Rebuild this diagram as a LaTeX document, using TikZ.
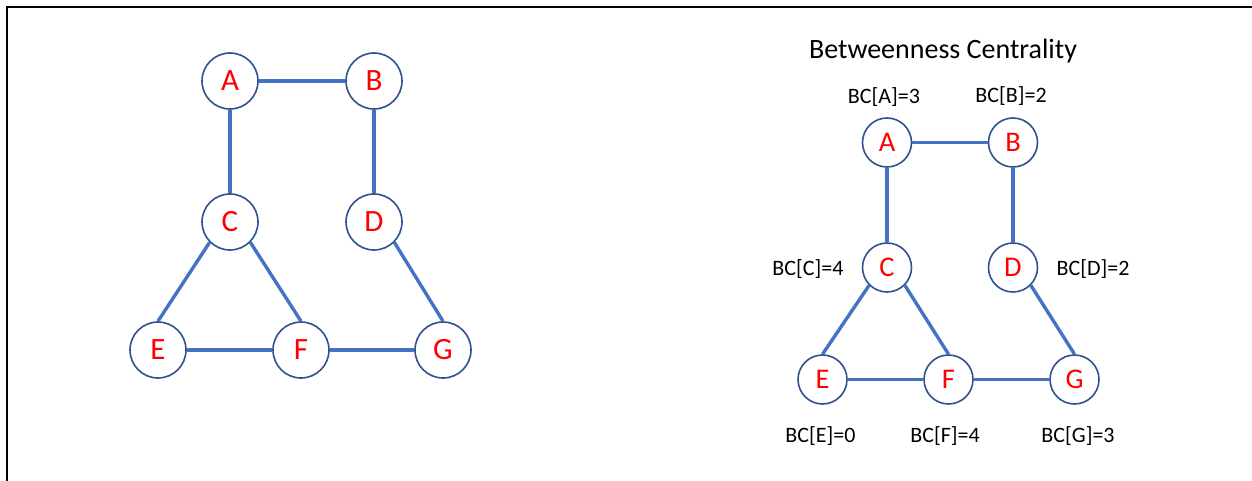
\documentclass[tikz,border=0pt]{standalone}
\usepackage{fontspec}
\setmainfont{Carlito}
\definecolor{ringblue}{RGB}{47,82,143}
\definecolor{edgeblue}{RGB}{68,114,196}
\definecolor{lettered}{RGB}{255,0,0}
\begin{document}
\begin{tikzpicture}[x=1pt,y=-1pt,
  vtx/.style={circle,draw=ringblue,line width=1.6pt,fill=white,inner sep=0pt,
    text=lettered},
  bigvtx/.style={vtx,minimum size=56pt,font=\fontsize{31}{31}\selectfont},
  smallvtx/.style={vtx,minimum size=49pt,font=\fontsize{28.5}{28.5}\selectfont},
  edge/.style={draw=edgeblue,line width=3.4pt},
  score/.style={anchor=base,inner sep=0pt,font=\fontsize{22}{22}\selectfont},
  heading/.style={anchor=base,inner sep=0pt,font=\fontsize{28}{28}\selectfont}]
\useasboundingbox (0,0) rectangle (1252,481);
% frame: top and left rules
\draw[line width=2.6pt] (1252,7) -- (7,7) -- (7,481);

% left graph
\node[bigvtx] (lA) at (230,81) {A};
\node[bigvtx] (lB) at (374,81) {B};
\node[bigvtx] (lC) at (230,222) {C};
\node[bigvtx] (lD) at (374,222) {D};
\node[bigvtx] (lE) at (158,350) {E};
\node[bigvtx] (lF) at (301,350) {F};
\node[bigvtx] (lG) at (443,350) {G};
\draw[edge] (lA.east) -- (lB.west);
\draw[edge] (lA.south) -- (lC.north);
\draw[edge] (lB.south) -- (lD.north);
\draw[edge] (lC.south west) -- (lE.north);
\draw[edge] (lC.south east) -- (lF.north);
\draw[edge] (lD.south east) -- (lG.north);
\draw[edge] (lE.east) -- (lF.west);
\draw[edge] (lF.east) -- (lG.west);

% right graph with scores
\node[heading] (title) at (943,59) {Betweenness Centrality};
\node[smallvtx] (rA) at (887,142.5) {A};
\node[smallvtx] (rB) at (1013,142.5) {B};
\node[smallvtx] (rC) at (887,267.5) {C};
\node[smallvtx] (rD) at (1013,267.5) {D};
\node[smallvtx] (rE) at (822.5,379.5) {E};
\node[smallvtx] (rF) at (948.5,379.5) {F};
\node[smallvtx] (rG) at (1074.5,379.5) {G};
\draw[edge] (rA.east) -- (rB.west);
\draw[edge] (rA.south) -- (rC.north);
\draw[edge] (rB.south) -- (rD.north);
\draw[edge] (rC.south west) -- (rE.north);
\draw[edge] (rC.south east) -- (rF.north);
\draw[edge] (rD.south east) -- (rG.north);
\draw[edge] (rE.east) -- (rF.west);
\draw[edge] (rF.east) -- (rG.west);

\node[score] (sA) at (884,104) {BC[A]=3};
\node[score] (sB) at (1011,102.5) {BC[B]=2};
\node[score] (sC) at (808,275) {BC[C]=4};
\node[score] (sD) at (1093,275) {BC[D]=2};
\node[score] (sE) at (820.5,442.5) {BC[E]=0};
\node[score] (sF) at (945,442.5) {BC[F]=4};
\node[score] (sG) at (1078,442.5) {BC[G]=3};
\end{tikzpicture}
\end{document}
